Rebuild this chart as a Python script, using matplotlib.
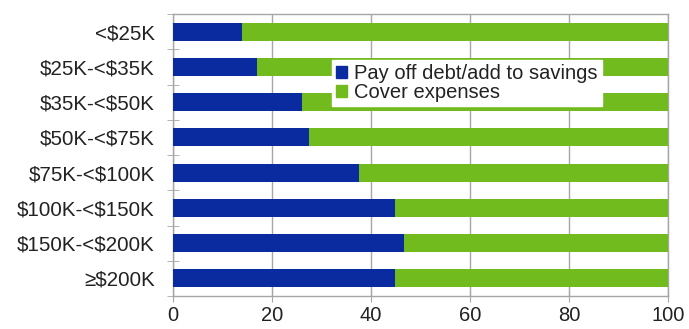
import matplotlib
matplotlib.use('Agg')
import matplotlib.pyplot as plt
import matplotlib.patches as mpatches
import numpy as np

# income groups, top to bottom
categories = ['<$25K', '$25K-<$35K', '$35K-<$50K', '$50K-<$75K',
              '$75K-<$100K', '$100K-<$150K', '$150K-<$200K', '\u2265$200K']
pay_off = [14.0, 16.9, 26.0, 27.5, 37.5, 44.9, 46.7, 44.9]
cover = [100 - v for v in pay_off]
series_names = ['Pay off debt/add to savings', 'Cover expenses']

blue = '#0a2a9f'
green = '#72bb1f'
grey = '#a6a6a6'

plt.rcParams['font.family'] = ['Liberation Sans', 'DejaVu Sans']
plt.rcParams['text.parse_math'] = False  # dollar signs are literal

fig = plt.figure(figsize=(6.89, 3.29), dpi=100)
ax = fig.add_axes([0.251, 0.1003, 0.7185, 0.8571])

y = np.arange(len(categories))
ax.barh(y, pay_off, height=0.51, color=blue, zorder=3)
ax.barh(y, cover, left=pay_off, height=0.51, color=green, zorder=3)

ax.set_xlim(0, 100)
ax.set_ylim(len(categories) - 0.5, -0.5)
ax.set_xticks(range(0, 101, 20))
ax.set_yticks(y)
ax.set_yticklabels(categories)
ax.set_yticks(np.arange(-0.5, len(categories), 1), minor=True)

ax.grid(axis='x', color=grey, linewidth=1, zorder=0)
for s in ax.spines.values():
    s.set_color(grey)
    s.set_linewidth(1)

ax.tick_params(axis='y', which='major', length=0, pad=13, labelsize=14.8, labelcolor='#222222')
ax.tick_params(axis='y', which='minor', direction='inout', length=8, color=grey)
ax.tick_params(axis='x', which='major', direction='inout', length=8, color=grey,
               pad=3, labelsize=14.5, labelcolor='#222222')

handles = [mpatches.Patch(color=blue), mpatches.Patch(color=green)]
leg = ax.legend(handles, series_names, loc='upper left', bbox_to_anchor=(0.321, 0.837),
                borderaxespad=0, frameon=True, fancybox=False, framealpha=1,
                edgecolor='white', fontsize=14.5, handlelength=0.55, handleheight=0.55,
                handletextpad=0.35, labelspacing=0.0, borderpad=0.2)
leg.set_zorder(5)
for t in leg.get_texts():
    t.set_color('#222222')

fig.savefig('out.png', dpi=100)
